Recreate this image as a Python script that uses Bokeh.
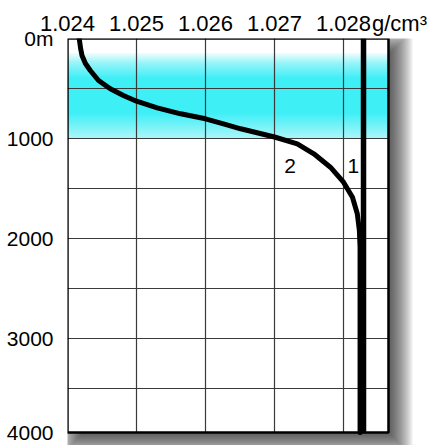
import numpy as np
from bokeh.plotting import figure
from bokeh.models import Range1d, FixedTicker, PrintfTickFormatter
from bokeh.core.properties import value
from bokeh.embed import file_html
from bokeh.resources import INLINE

# ---------------- data ----------------
density_ticks = [1.024, 1.025, 1.026, 1.027, 1.028]
density_grid = [1.025, 1.026, 1.027, 1.028]
density_unit = "g/cm\u00b3"

depth_label_ticks = [0, 1000, 2000, 3000, 3940]
depth_labels = ["0m", "1000", "2000", "3000", "4000"]
depth_grid = [500, 1000, 1500, 2000, 2500, 3000, 3500]

frame_density = [1.024, 1.028652]
frame_depth = [0, 3940]

# curve 2 : density profile with pycnocline
curve2_density = [1.02417, 1.02419, 1.02421, 1.02426, 1.02433, 1.02445, 1.02462,
                  1.02481, 1.02500, 1.02530, 1.02564, 1.02600, 1.02626, 1.02651,
                  1.02700, 1.02733, 1.02757, 1.02781, 1.02800, 1.02813, 1.02820,
                  1.02823, 1.02824, 1.02824]
curve2_depth = [0, 100, 170, 250, 320, 420, 503,
                570, 627, 693, 753, 803, 853, 903,
                985, 1053, 1153, 1287, 1437, 1587, 1753,
                1920, 2087, 3940]

# line 1 : uniform density
line1_density = [1.02829, 1.02829]
line1_depth = [0, 3940]

curve_labels = ["2", "1"]
curve_label_density = [1.027227, 1.028142]
curve_label_depth = [1270, 1270]

# pycnocline band (gradient stops)
band_depth = [150, 250, 400, 750, 1000]
band_colors = ["#ecfdfe", "#8ef3f8", "#33eef5", "#33eef5", "#a6f5f9"]

# ---------------- figure ----------------
PX_X = 1 / 69000.0    # density units per pixel
PX_Y = 10.0           # metres per pixel
W, H = 430, 445
ML, MT, MR = 67, 38, 12
FW, FH = W - ML - MR, H - MT

p = figure(width=W, height=H,
           x_range=Range1d(1.024 - 1e-9, 1.024 + FW * PX_X),
           y_range=Range1d(FH * PX_Y, -0.01),
           x_axis_location="above",
           output_backend="svg", toolbar_location=None,
           min_border_left=ML, min_border_right=MR,
           min_border_top=MT, min_border_bottom=0)
p.outline_line_color = None
p.background_fill_color = "white"
p.border_fill_color = "white"
p.xgrid.grid_line_color = None
p.ygrid.grid_line_color = None

FONT = "Liberation Sans"

# unit written right after the last density label, on the same line
unit_pos = density_ticks[-1] + 56 * PX_X

xa = p.xaxis[0]
xa.ticker = FixedTicker(ticks=density_ticks + [unit_pos])
xa.formatter = PrintfTickFormatter(format="%.3f")
xa.major_label_overrides = {unit_pos: density_unit}
xa.axis_line_color = None
xa.major_tick_line_color = None
xa.minor_tick_line_color = None
xa.major_label_text_font = FONT
xa.major_label_text_font_size = "22px"
xa.major_label_text_color = "black"
xa.major_label_standoff = -3

ya = p.yaxis[0]
ya.ticker = FixedTicker(ticks=depth_label_ticks)
ya.major_label_overrides = dict(zip(depth_label_ticks, depth_labels))
ya.axis_line_color = None
ya.major_tick_line_color = None
ya.minor_tick_line_color = None
ya.major_label_text_font = FONT
ya.major_label_text_font_size = "21px"
ya.major_label_text_color = "black"
ya.major_label_standoff = 8

x0, x1 = frame_density
y0, y1 = frame_depth

# ---- drop shadow ----
off = 8
for e in range(-8, 18, 2):
    p.quad(left=[x0 + (off - e) * PX_X], right=[x1 + (off + e) * PX_X],
           top=[y0 + (off - e) * PX_Y], bottom=[y1 + (off + e) * PX_Y],
           fill_color="black", fill_alpha=0.075, line_color=None)

# white plotting area
p.quad(left=[x0], right=[x1], top=[y0], bottom=[y1],
       fill_color="white", line_color=None)

# ---- gradient band ----
def hex2rgb(h):
    h = h.lstrip("#")
    return np.array([int(h[i:i + 2], 16) for i in (0, 2, 4)], dtype=float)

stops = np.array([hex2rgb(c) for c in band_colors])
edges = np.arange(band_depth[0], band_depth[-1] + 1, PX_Y)
tops, bots, cols = [], [], []
for a, b in zip(edges[:-1], edges[1:]):
    m = 0.5 * (a + b)
    rgb = [np.interp(m, band_depth, stops[:, k]) for k in range(3)]
    cols.append("#%02x%02x%02x" % tuple(int(round(v)) for v in rgb))
    tops.append(a)
    bots.append(b)
p.quad(left=[x0] * len(tops), right=[x1] * len(tops), top=tops, bottom=bots,
       fill_color=cols, line_color=cols, line_width=0.5)

# ---- grid lines (inside the frame only) ----
p.segment(x0=density_grid, x1=density_grid, y0=[y0] * len(density_grid),
          y1=[y1] * len(density_grid), line_color="#3a3a3a", line_width=1.2)
p.segment(x0=[x0] * len(depth_grid), x1=[x1] * len(depth_grid), y0=depth_grid,
          y1=depth_grid, line_color="#3a3a3a", line_width=1.2)

# ---- curves ----
p.line(line1_density, line1_depth, line_color="black", line_width=5.5)
p.line(curve2_density, curve2_depth, line_color="black", line_width=5,
       line_join="round", line_cap="round")

p.text(x=curve_label_density, y=curve_label_depth, text=curve_labels,
       text_font=value(FONT), text_font_size="21px", text_color="black",
       text_align="center", text_baseline="middle")

# frame border
p.quad(left=[x0], right=[x1], top=[y0], bottom=[y1],
       fill_color=None, line_color="black", line_width=2.5)

open("out.html", "w").write(file_html(p, INLINE))
